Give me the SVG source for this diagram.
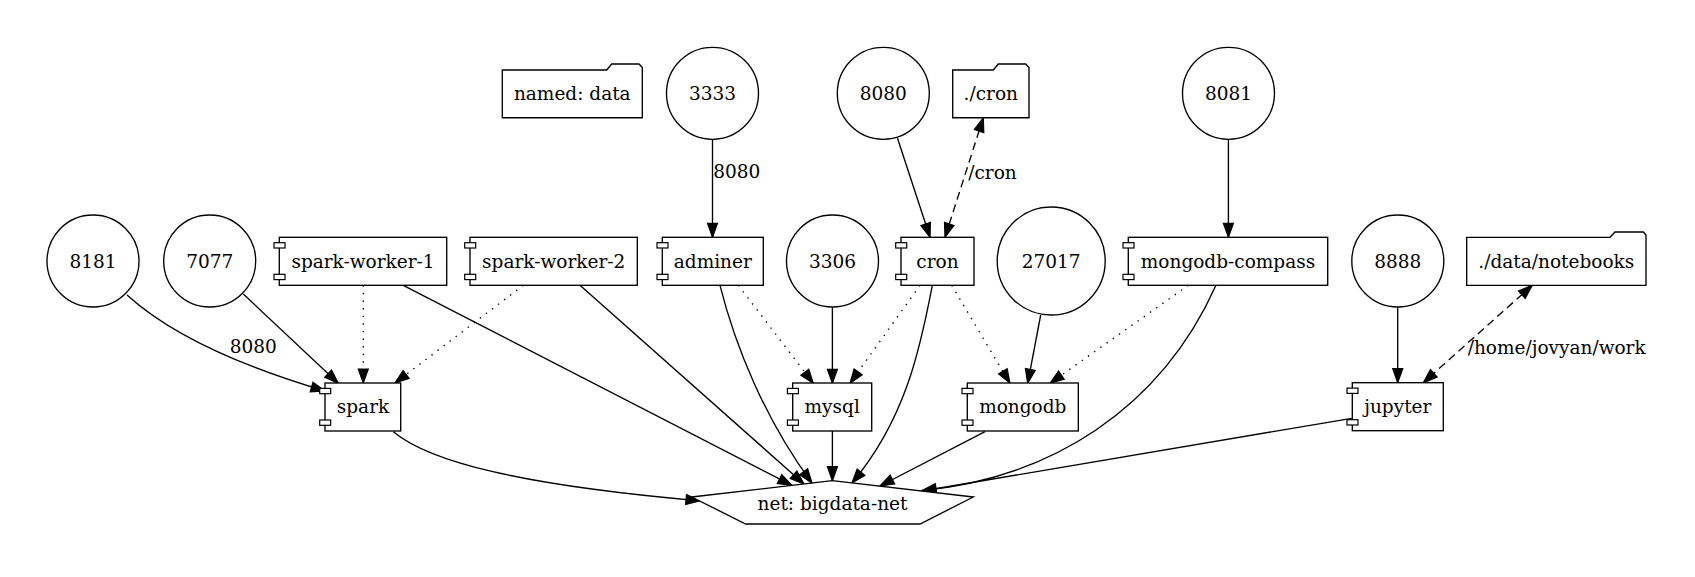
<svg xmlns="http://www.w3.org/2000/svg" width="1695" height="577" viewBox="0 0 1695 577">
<style>
.bg{fill:#fff}
.n{fill:#fff;stroke:#000;stroke-width:1.35}
.nt{fill:#fff;stroke:#000;stroke-width:1.2}
.t{font-family:"DejaVu Serif",serif;font-size:18.5px;text-anchor:middle;fill:#000}
.e{fill:none;stroke:#000;stroke-width:1.35}
.dot{stroke-dasharray:1.4,6.2}
.dash{stroke-dasharray:8,5}
</style>
<defs>
<marker id="arr" markerUnits="userSpaceOnUse" markerWidth="16" markerHeight="12" refX="14" refY="5" orient="auto-start-reverse" overflow="visible">
<path d="M0,0 L14,5 L0,10 Z" fill="#000" stroke="#000" stroke-width="1.2"/>
</marker>
</defs>
<rect class="bg" x="0" y="0" width="1695" height="577"/>

<g id="connectors">
<path class="e" d="M127,295 C160,325 220,360 325,391" marker-end="url(#arr)"/>
<text class="t" x="253.3" y="353.3">8080</text>
<path class="e" d="M243.3,294 L338.3,383.3" marker-end="url(#arr)"/>
<path class="e dot" d="M363.3,285.3 L363.3,383" marker-end="url(#arr)"/>
<path class="e dot" d="M523.3,285.3 L395,383" marker-end="url(#arr)"/>
<path class="e" d="M393.3,431.7 C430,462 520,485 700,500.8" marker-end="url(#arr)"/>
<path class="e" d="M403.3,285.3 L792,485.4" marker-end="url(#arr)"/>
<path class="e" d="M580,285.3 L804,484" marker-end="url(#arr)"/>
<path class="e" d="M720,285.3 C735,345 765,420 812,483" marker-end="url(#arr)"/>
<path class="e dot" d="M738.3,285.3 L813.3,383.3" marker-end="url(#arr)"/>
<path class="e" d="M832.4,307.5 L832.4,383.3" marker-end="url(#arr)"/>
<path class="e dot" d="M920,285.3 L850,383.3" marker-end="url(#arr)"/>
<path class="e" d="M832.4,431 L832.4,480.7" marker-end="url(#arr)"/>
<path class="e" d="M932.3,285.3 C920,350 905,420 852,483" marker-end="url(#arr)"/>
<path class="e dot" d="M951.7,285.3 L1010,383.3" marker-end="url(#arr)"/>
<path class="e" d="M1040.7,315 L1027.7,383.3" marker-end="url(#arr)"/>
<path class="e dot" d="M1188.3,285.3 L1050,383.3" marker-end="url(#arr)"/>
<path class="e" d="M985,431.7 L880,486" marker-end="url(#arr)"/>
<path class="e" d="M1216,285.3 C1160,410 1050,478 922,490.5" marker-end="url(#arr)"/>
<path class="e" d="M1351.7,418.3 L922,491" marker-end="url(#arr)"/>
<path class="e" d="M1397.7,307.5 L1397.7,382.7" marker-end="url(#arr)"/>
<path class="e dash" d="M1532.3,285.3 L1423.3,382.7" marker-start="url(#arr)" marker-end="url(#arr)"/>
<text class="t" x="1556.7" y="354">/home/jovyan/work</text>
<path class="e" d="M712.5,139.3 L712.5,237.3" marker-end="url(#arr)"/>
<text class="t" x="736.7" y="178.3">8080</text>
<path class="e" d="M897.5,138.3 L930,237.3" marker-end="url(#arr)"/>
<path class="e dash" d="M983.3,117.7 L945,237.3" marker-start="url(#arr)" marker-end="url(#arr)"/>
<text class="t" x="992.5" y="179">/cron</text>
<path class="e" d="M1228.4,139.3 L1228.4,237.3" marker-end="url(#arr)"/>
</g>

<g id="named-data"><path class="n" d="M502.3,70 L606.7,70 L611.7,64 L639,64 L642.3,67.5 L642.3,117.7 L502.3,117.7 Z"/><text class="t" x="572.3" y="100">named: data</text></g>
<g id="p3333"><circle class="n" cx="712.5" cy="93.3" r="46"/><text class="t" x="712.5" y="99.8">3333</text></g>
<g id="p8080"><circle class="n" cx="883.3" cy="93.3" r="46"/><text class="t" x="883.3" y="99.8">8080</text></g>
<g id="vol-cron"><path class="n" d="M952.7,70 L993.3,70 L998.3,64 L1025.7,64 L1029,67.5 L1029,117.7 L952.7,117.7 Z"/><text class="t" x="990.8" y="100">./cron</text></g>
<g id="p8081"><circle class="n" cx="1228.5" cy="93.3" r="46"/><text class="t" x="1228.5" y="99.8">8081</text></g>

<g id="p8181"><circle class="n" cx="93" cy="261" r="46"/><text class="t" x="93" y="267.5">8181</text></g>
<g id="p7077"><circle class="n" cx="209.7" cy="261" r="46"/><text class="t" x="209.7" y="267.5">7077</text></g>
<g id="spark-worker-1"><rect class="n" x="279.3" y="237.3" width="167.4" height="48"/><rect class="nt" x="274" y="242.7" width="11" height="5.3"/><rect class="nt" x="274" y="274.3" width="11" height="5.3"/><text class="t" x="363" y="267.5">spark-worker-1</text></g>
<g id="spark-worker-2"><rect class="n" x="470" y="237.3" width="167.3" height="48"/><rect class="nt" x="464.7" y="242.7" width="11" height="5.3"/><rect class="nt" x="464.7" y="274.3" width="11" height="5.3"/><text class="t" x="553.7" y="267.5">spark-worker-2</text></g>
<g id="adminer"><rect class="n" x="662.3" y="237.3" width="101" height="48"/><rect class="nt" x="657" y="242.7" width="11" height="5.3"/><rect class="nt" x="657" y="274.3" width="11" height="5.3"/><text class="t" x="712.8" y="267.5">adminer</text></g>
<g id="p3306"><circle class="n" cx="832.5" cy="261" r="46"/><text class="t" x="832.5" y="267.5">3306</text></g>
<g id="cron"><rect class="n" x="901" y="237.3" width="73" height="48"/><rect class="nt" x="895.7" y="242.7" width="11" height="5.3"/><rect class="nt" x="895.7" y="274.3" width="11" height="5.3"/><text class="t" x="937.5" y="267.5">cron</text></g>
<g id="p27017"><circle class="n" cx="1051.2" cy="261" r="54"/><text class="t" x="1051.2" y="267.5">27017</text></g>
<g id="mongodb-compass"><rect class="n" x="1128.3" y="237.3" width="199.4" height="48"/><rect class="nt" x="1123" y="242.7" width="11" height="5.3"/><rect class="nt" x="1123" y="274.3" width="11" height="5.3"/><text class="t" x="1228" y="267.5">mongodb-compass</text></g>
<g id="p8888"><circle class="n" cx="1397.8" cy="261" r="46"/><text class="t" x="1397.8" y="267.5">8888</text></g>
<g id="vol-notebooks"><path class="n" d="M1466.7,237.3 L1610,237.3 L1615,232 L1643.3,232 L1646,235 L1646,285.3 L1466.7,285.3 Z"/><text class="t" x="1556.3" y="267.5">./data/notebooks</text></g>

<g id="spark"><rect class="n" x="325" y="383" width="75.7" height="48"/><rect class="nt" x="319.7" y="388.4" width="11" height="5.3"/><rect class="nt" x="319.7" y="420" width="11" height="5.3"/><text class="t" x="363" y="413.3">spark</text></g>
<g id="mysql"><rect class="n" x="792.7" y="383" width="79" height="48"/><rect class="nt" x="787.4" y="388.4" width="11" height="5.3"/><rect class="nt" x="787.4" y="420" width="11" height="5.3"/><text class="t" x="832.2" y="413.3">mysql</text></g>
<g id="mongodb"><rect class="n" x="967.3" y="383" width="111" height="48"/><rect class="nt" x="962" y="388.4" width="11" height="5.3"/><rect class="nt" x="962" y="420" width="11" height="5.3"/><text class="t" x="1022.8" y="413.3">mongodb</text></g>
<g id="jupyter"><rect class="n" x="1352.3" y="382.7" width="91" height="48"/><rect class="nt" x="1347" y="388.1" width="11" height="5.3"/><rect class="nt" x="1347" y="419.7" width="11" height="5.3"/><text class="t" x="1397.8" y="413">jupyter</text></g>

<g id="net-bigdata-net"><path class="n" d="M832.3,480.7 L973.3,497 L920,524 L745.7,524 L691.7,497 Z"/><text class="t" x="832.5" y="510">net: bigdata-net</text></g>
</svg>
